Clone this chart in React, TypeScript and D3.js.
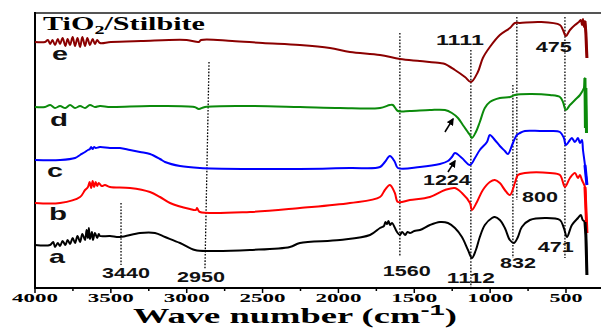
import { useEffect, useRef } from 'react'
import * as d3 from 'd3'

type Pt = [number, number]

// [wavenumber cm-1, transmittance a.u.]
const curveE: Pt[] = [
  [4000, 246], [3934, 246], [3915, 248], [3900, 244], [3885, 248], [3868, 243], [3850, 249],
  [3835, 244], [3818, 250], [3800, 242], [3785, 249], [3769, 243], [3752, 251], [3736, 242],
  [3720, 250], [3703, 241], [3688, 251], [3670, 242], [3655, 250], [3638, 243], [3620, 249],
  [3605, 244], [3590, 248], [3572, 245], [3500, 246], [3300, 247], [3000, 248], [2920, 246],
  [2905, 248], [2700, 247], [2500, 245], [2254, 243], [2056, 240], [1924, 236], [1726, 233],
  [1595, 229], [1463, 227], [1331, 225], [1298, 224], [1232, 218], [1166, 211], [1127, 206],
  [1081, 216], [1048, 230], [1002, 241], [936, 253], [870, 260], [837, 265], [804, 265],
  [672, 266], [540, 263], [520, 258], [501, 252], [474, 258], [441, 263], [415, 266],
  [402, 268], [395, 263], [388, 269], [382, 261], [375, 267], [369, 255], [365, 240], [362, 230]
]

const curveD: Pt[] = [
  [4000, 181], [3934, 181], [3900, 183], [3868, 180], [3835, 182], [3800, 180], [3769, 183],
  [3736, 180], [3703, 182], [3670, 180], [3638, 183], [3605, 181], [3572, 182], [3500, 181],
  [3242, 182], [2950, 181], [2920, 179], [2880, 181], [2583, 182], [2254, 181], [1990, 180],
  [1726, 180], [1661, 183], [1641, 183], [1608, 177], [1529, 177], [1397, 178], [1298, 178],
  [1252, 175], [1212, 170], [1180, 163], [1133, 153], [1120, 150], [1094, 156], [1068, 166],
  [1035, 180], [1002, 186], [936, 190], [870, 191], [837, 193], [738, 194], [606, 193],
  [540, 191], [520, 186], [501, 178], [474, 183], [441, 188], [408, 193], [395, 196],
  [382, 200], [375, 210], [372, 160], [369, 200], [365, 155]
]

const curveC: Pt[] = [
  [4000, 128], [3835, 128], [3736, 130], [3703, 133], [3670, 136], [3651, 138], [3638, 139],
  [3630, 141], [3620, 139], [3610, 141], [3600, 140], [3572, 141], [3506, 140], [3440, 140],
  [3374, 138], [3308, 136], [3242, 134], [3176, 129], [3143, 126], [3044, 122], [2913, 120],
  [2583, 119], [2254, 119], [1924, 120], [1726, 121], [1694, 126], [1661, 132], [1628, 126],
  [1608, 120], [1463, 121], [1331, 124], [1278, 127], [1252, 131], [1232, 135], [1186, 130],
  [1133, 123], [1100, 130], [1068, 138], [1021, 146], [1002, 153], [969, 148], [936, 142],
  [903, 137], [883, 134], [850, 145], [824, 153], [804, 155], [771, 157], [672, 157],
  [606, 157], [540, 156], [514, 150], [501, 143], [474, 148], [461, 150], [441, 146],
  [421, 150], [408, 145], [395, 148], [388, 138], [375, 123], [362, 103]
]

const curveB: Pt[] = [
  [4000, 85], [3835, 85], [3703, 91], [3670, 98], [3651, 101], [3640, 106], [3630, 100],
  [3620, 107], [3610, 101], [3600, 106], [3590, 102], [3580, 105], [3560, 102], [3539, 103],
  [3506, 101], [3374, 100], [3242, 96], [3176, 91], [3110, 85], [2979, 79], [2940, 78],
  [2932, 80], [2925, 78], [2913, 76], [2583, 76], [2254, 80], [1924, 85], [1726, 91],
  [1694, 98], [1661, 103], [1628, 95], [1608, 86], [1529, 88], [1397, 91], [1298, 98],
  [1232, 100], [1186, 95], [1133, 85], [1120, 78], [1087, 86], [1048, 98], [1002, 106],
  [969, 108], [936, 105], [903, 98], [870, 93], [837, 105], [817, 113], [771, 115],
  [606, 115], [540, 113], [507, 101], [474, 110], [441, 115], [421, 110], [408, 113],
  [395, 108], [375, 101], [369, 80], [362, 55]
]

const curveA: Pt[] = [
  [4000, 43], [3901, 43], [3880, 46], [3868, 41], [3850, 45], [3835, 42], [3818, 47],
  [3800, 43], [3785, 48], [3769, 44], [3752, 50], [3736, 45], [3720, 52], [3703, 46],
  [3688, 54], [3670, 48], [3660, 58], [3651, 50], [3645, 60], [3638, 49], [3625, 56],
  [3618, 48], [3605, 55], [3590, 50], [3580, 54], [3572, 52], [3506, 52], [3440, 51],
  [3308, 55], [3209, 55], [3143, 51], [3044, 45], [2946, 38], [2847, 37], [2583, 38],
  [2320, 41], [2254, 45], [1990, 48], [1792, 53], [1726, 60], [1700, 62], [1690, 66],
  [1680, 64], [1670, 67], [1660, 63], [1647, 65], [1614, 56], [1595, 53], [1580, 56],
  [1560, 53], [1545, 56], [1529, 55], [1500, 57], [1463, 58], [1397, 63], [1331, 66],
  [1278, 65], [1232, 60], [1186, 51], [1146, 38], [1120, 30], [1094, 38], [1068, 51],
  [1035, 63], [988, 70], [969, 71], [936, 68], [903, 60], [870, 48], [843, 45], [817, 51],
  [791, 61], [738, 68], [639, 70], [540, 68], [514, 60], [494, 51], [461, 63], [421, 70],
  [402, 73], [390, 68], [375, 66], [369, 53], [362, 13]
]

const seriesList = [
  { name: 'e', color: '#8b0000', data: curveE },
  { name: 'd', color: '#0b8a0b', data: curveD },
  { name: 'c', color: '#0000ff', data: curveC },
  { name: 'b', color: '#ff0000', data: curveB },
  { name: 'a', color: '#000000', data: curveA }
]

const xTicks = [4000, 3500, 3000, 2500, 2000, 1500, 1000, 500]
const xMinorTicks = [3750, 3250, 2750, 2250, 1750, 1250, 750]

// dotted guide lines: [w top, v top, w bottom, v bottom]
const guideLines: [number, number, number, number][] = [
  [3433, 85, 3433, 23],
  [2853, 226, 2880, 18],
  [1595, 255, 1595, 31],
  [1127, 238, 1127, 0],
  [824, 271, 824, 88],
  [850, 203, 850, 30],
  [507, 271, 507, 30]
]

// peak labels: text, w (centre), v (baseline)
const peakLabels: [string, number, number][] = [
  ['3440', 3400, 10],
  ['2950', 2906, 6],
  ['1560', 1549, 12],
  ['1112', 1127, 5],
  ['832', 817, 20],
  ['471', 567, 36],
  ['800', 672, 86],
  ['1224', 1285, 103],
  ['1111', 1199, 243],
  ['475', 580, 236]
]

const curveLetters: [string, number, number][] = [
  ['e', 3835, 228],
  ['d', 3842, 162],
  ['c', 3868, 111],
  ['b', 3848, 68],
  ['a', 3855, 25]
]

// arrows: from [w, v] to [w, v]
const arrows: [number, number, number, number][] = [
  [1298, 156, 1245, 169],
  [1278, 116, 1232, 127]
]

const W = 601
const H = 328

export default function App() {
  const svgRef = useRef<SVGSVGElement>(null)

  useEffect(() => {
    if (!svgRef.current) return
    const svg = d3.select(svgRef.current)
    svg.selectAll('*').remove()

    const x = d3.scaleLinear().domain([4000, 500]).range([35, 566])
    const y = d3.scaleLinear().domain([0, 275]).range([288, 13])

    svg.append('defs')
      .append('marker')
      .attr('id', 'ah')
      .attr('viewBox', '0 0 10 10')
      .attr('refX', 8)
      .attr('refY', 5)
      .attr('markerWidth', 5)
      .attr('markerHeight', 5)
      .attr('orient', 'auto')
      .append('path')
      .attr('d', 'M0,0L10,5L0,10Z')
      .attr('fill', '#000')

    // frame
    svg.append('line')
      .attr('x1', 35).attr('x2', W).attr('y1', 13).attr('y2', 13)
      .attr('stroke', '#555').attr('stroke-width', 2)
    svg.append('line')
      .attr('x1', 35).attr('x2', 35).attr('y1', 12).attr('y2', 289)
      .attr('stroke', '#000').attr('stroke-width', 2)

    // guides
    svg.append('g')
      .selectAll('line')
      .data(guideLines)
      .enter()
      .append('line')
      .attr('x1', d => x(d[0]))
      .attr('y1', d => y(d[1]))
      .attr('x2', d => x(d[2]))
      .attr('y2', d => y(d[3]))
      .attr('stroke', '#000')
      .attr('stroke-width', 1.3)
      .attr('stroke-dasharray', '1.6,1.6')

    const line = d3.line<Pt>()
      .x(d => x(d[0]))
      .y(d => y(d[1]))
      .curve(d3.curveCatmullRom.alpha(0.5))

    svg.append('g')
      .selectAll('path')
      .data(seriesList)
      .enter()
      .append('path')
      .attr('d', d => line(d.data))
      .attr('fill', 'none')
      .attr('stroke', d => d.color)
      .attr('stroke-width', 2)
      .attr('stroke-linejoin', 'round')

    // end bars a bit heavier
    const straight = d3.line<Pt>().x(d => x(d[0])).y(d => y(d[1]))
    svg.append('g')
      .selectAll('path')
      .data(seriesList)
      .enter()
      .append('path')
      .attr('d', d => straight(d.data.filter(p => p[0] <= 375)))
      .attr('fill', 'none')
      .attr('stroke', d => d.color)
      .attr('stroke-width', 3)

    // x axis
    const axis = svg.append('g').attr('transform', 'translate(0,288)')
    axis.append('line')
      .attr('x1', 34).attr('x2', W).attr('y1', 0).attr('y2', 0)
      .attr('stroke', '#000').attr('stroke-width', 2)
    axis.selectAll('.major')
      .data(xTicks)
      .enter()
      .append('line')
      .attr('x1', d => x(d)).attr('x2', d => x(d))
      .attr('y1', 0).attr('y2', 5)
      .attr('stroke', '#000').attr('stroke-width', 1.5)
    axis.selectAll('.minor')
      .data(xMinorTicks)
      .enter()
      .append('line')
      .attr('x1', d => x(d)).attr('x2', d => x(d))
      .attr('y1', 0).attr('y2', 3)
      .attr('stroke', '#000').attr('stroke-width', 1.5)
    axis.selectAll('text')
      .data(xTicks)
      .enter()
      .append('text')
      .attr('x', d => x(d))
      .attr('y', 14)
      .attr('text-anchor', 'middle')
      .attr('font-family', '"Liberation Serif", "Times New Roman", serif')
      .attr('font-weight', 'bold')
      .attr('font-size', 13)
      .attr('textLength', d => (String(d).length === 4 ? 46 : 33))
      .attr('lengthAdjust', 'spacingAndGlyphs')
      .text(d => String(d))

    // axis title
    const title = svg.append('g').attr('transform', 'translate(295,323)')
    const tt = title.append('text')
      .attr('text-anchor', 'middle')
      .attr('font-family', '"Liberation Serif", "Times New Roman", serif')
      .attr('font-weight', 'bold')
      .attr('font-size', 20)
    tt.append('tspan').text('Wave number (cm')
    tt.append('tspan').attr('dy', -8).attr('font-size', 15)
      .attr('font-family', '"Liberation Sans", Arial, sans-serif').text('-1')
    tt.append('tspan').attr('dy', 8).text(')')
    const tw = (tt.node() as SVGTextElement).getBBox().width
    tt.attr('transform', `scale(${324 / tw},1)`)

    // sample title
    const st = svg.append('g').attr('transform', 'translate(43,30)')
    const stt = st.append('text')
      .attr('font-family', '"Liberation Serif", "Times New Roman", serif')
      .attr('font-weight', 'bold')
      .attr('font-size', 18)
    stt.append('tspan').text('TiO')
    stt.append('tspan').attr('dy', 4).attr('font-size', 12).text('2')
    stt.append('tspan').attr('dy', -4).text('/Stilbite')
    const sw = (stt.node() as SVGTextElement).getBBox().width
    stt.attr('transform', `scale(${162 / sw},1)`)

    // peak labels
    svg.append('g')
      .selectAll('text')
      .data(peakLabels)
      .enter()
      .append('text')
      .attr('x', d => x(d[1]))
      .attr('y', d => y(d[2]))
      .attr('text-anchor', 'middle')
      .attr('font-family', '"Liberation Sans", Arial, sans-serif')
      .attr('font-weight', 'bold')
      .attr('font-size', 14)
      .attr('textLength', d => d[0].length * 12)
      .attr('lengthAdjust', 'spacingAndGlyphs')
      .attr('fill', '#111')
      .text(d => d[0])

    // curve letters
    svg.append('g')
      .selectAll('text')
      .data(curveLetters)
      .enter()
      .append('text')
      .attr('x', d => x(d[1]))
      .attr('y', d => y(d[2]))
      .attr('text-anchor', 'middle')
      .attr('font-family', '"Liberation Sans", Arial, sans-serif')
      .attr('font-weight', 'bold')
      .attr('font-size', 19)
      .attr('textLength', d => (d[0] === 'd' || d[0] === 'b' ? 18 : 16))
      .attr('lengthAdjust', 'spacingAndGlyphs')
      .attr('fill', '#111')
      .text(d => d[0])

    // arrows
    svg.append('g')
      .selectAll('line')
      .data(arrows)
      .enter()
      .append('line')
      .attr('x1', d => x(d[0]))
      .attr('y1', d => y(d[1]))
      .attr('x2', d => x(d[2]))
      .attr('y2', d => y(d[3]))
      .attr('stroke', '#000')
      .attr('stroke-width', 1.5)
      .attr('marker-end', 'url(#ah)')
  }, [])

  return (
    <svg
      ref={svgRef}
      width={W}
      height={H}
      style={{ position: 'absolute', left: 0, top: 0, background: '#fff' }}
    />
  )
}
